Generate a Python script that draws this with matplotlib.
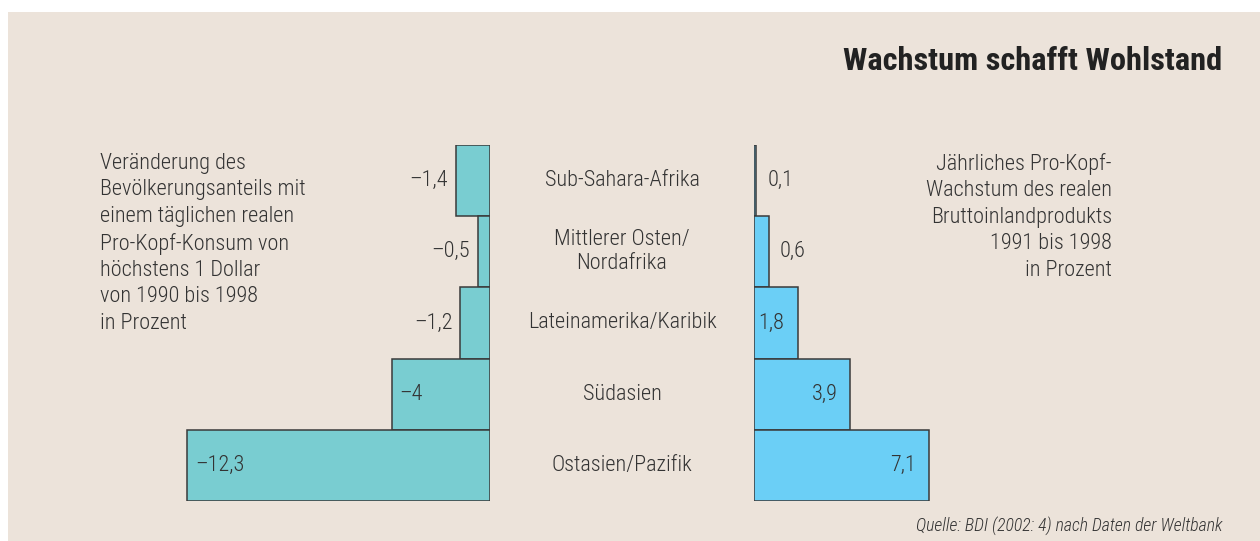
import numpy as np
import matplotlib
matplotlib.use("Agg")
import matplotlib.pyplot as plt
from matplotlib.patches import Rectangle
from matplotlib.transforms import blended_transform_factory

# data
regions = ["Sub-Sahara-Afrika", "Mittlerer Osten/\nNordafrika", "Lateinamerika/Karibik",
           "Südasien", "Ostasien/Pazifik"]
poverty_change = [-1.4, -0.5, -1.2, -4.0, -12.3]
gdp_growth = [0.1, 0.6, 1.8, 3.9, 7.1]

title = "Wachstum schafft Wohlstand"
left_note = ("Veränderung des\nBevölkerungsanteils mit\neinem täglichen realen\n"
             "Pro-Kopf-Konsum von\nhöchstens 1 Dollar\nvon 1990 bis 1998\nin Prozent")
right_note = ("Jährliches Pro-Kopf-\nWachstum des realen\nBruttoinlandprodukts\n"
              "1991 bis 1998\nin Prozent")
source = "Quelle: BDI (2002: 4) nach Daten der Weltbank"

BG = "#ece3da"
TEAL = "#79cdd1"
BLUE = "#6bcff6"
INK = "#333333"
EDGE = "#3a3a3a"

plt.rcParams["font.family"] = ["Roboto Condensed", "Archivo Narrow", "DejaVu Sans"]

W, H = 1260, 541
fig = plt.figure(figsize=(W / 100, H / 100), dpi=100)
fig.patch.set_facecolor("white")
fig.patches.append(Rectangle((8 / W, 0), 1 - 8 / W, 1 - 12 / H, transform=fig.transFigure,
                             facecolor=BG, edgecolor="none", zorder=-10))


def fx(px):
    return px / W


def fy(py):
    return 1 - py / H


def fmt(v):
    s = f"{v:g}".replace(".", ",")
    return s.replace("-", "\u2013")


scale = 24.6  # pixels per percent
bottom, top = 501, 145
axl = fig.add_axes([fx(150), fy(bottom), fx(490 - 150), (bottom - top) / H])
axr = fig.add_axes([fx(754), fy(bottom), fx(1110 - 754), (bottom - top) / H])
axl.set_xlim(-(490 - 150) / scale, 0)
axr.set_xlim(0, (1110 - 754) / scale)
for ax in (axl, axr):
    ax.set_ylim(len(regions) - 0.5, -0.5)
    ax.axis("off")

y = np.arange(len(regions))
axl.barh(y, poverty_change, height=1.0, color=TEAL, edgecolor=EDGE, linewidth=1.1)
axr.barh(y, gdp_growth, height=1.0, color=BLUE, edgecolor=EDGE, linewidth=1.1)

fs = 16
fw = "light"
for i, v in enumerate(poverty_change):
    if abs(v) >= 3:
        axl.text(v + 0.3, i, fmt(v), ha="left", va="center", fontsize=fs, fontweight=fw, color=INK)
    else:
        axl.text(v - 0.33, i, fmt(v), ha="right", va="center", fontsize=fs, fontweight=fw, color=INK)

for i, v in enumerate(gdp_growth):
    if v < 1:
        axr.text(v + 0.45, i, fmt(v), ha="left", va="center", fontsize=fs, fontweight=fw, color=INK)
    elif v < 3:
        axr.text(0.15, i, fmt(v), ha="left", va="center", fontsize=fs, fontweight=fw, color=INK)
    else:
        axr.text(v - 0.5, i, fmt(v), ha="right", va="center", fontsize=fs, fontweight=fw, color=INK)

# category names in the gap between both bar groups
mid = blended_transform_factory(fig.transFigure, axl.transData)
for i, name in enumerate(regions):
    axl.text(fx(622), i, name, transform=mid, ha="center", va="center",
             fontsize=fs, fontweight=fw, color=INK, linespacing=1.2)

fig.text(fx(1222), fy(61), title, ha="right", va="center", fontsize=23.4, fontweight="bold", color="#222222")
fig.text(fx(100), fy(153), left_note, ha="left", va="top", fontsize=fs, fontweight=fw, color=INK,
         linespacing=1.34)
fig.text(fx(1112), fy(153), right_note, ha="right", va="top", fontsize=fs, fontweight=fw, color=INK,
         linespacing=1.34, multialignment="right")
fig.text(fx(1223), fy(526), source, ha="right", va="center", fontsize=12.8, fontweight=fw,
         style="italic", color=INK)

fig.savefig("out.png", dpi=100, facecolor=fig.get_facecolor())
